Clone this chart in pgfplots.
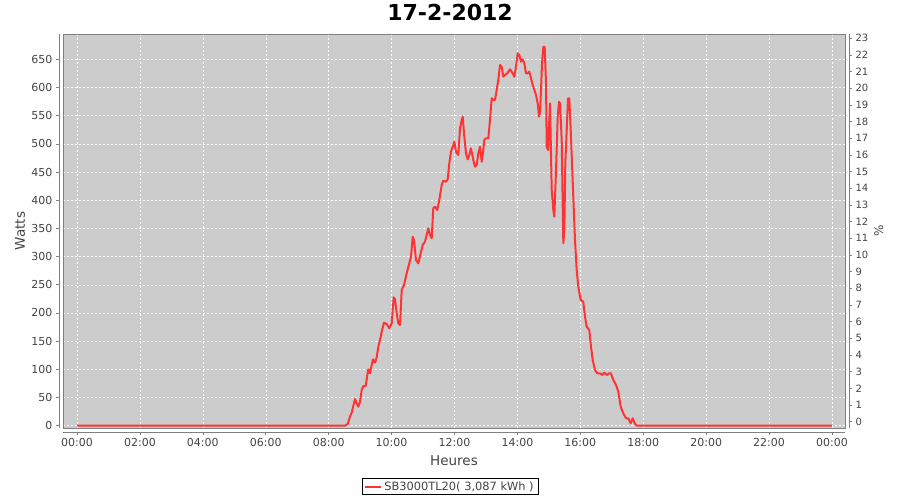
\documentclass[border=0pt]{standalone}
\usepackage{pgfplots}
\pgfplotsset{compat=1.18}
\usepackage{fontspec}
\setmainfont{DejaVu Sans}
\definecolor{bgc}{HTML}{CCCCCC}
\definecolor{axc}{HTML}{808080}
\definecolor{txt}{HTML}{444444}
\definecolor{redl}{HTML}{FF3333}
\begin{document}
\begin{tikzpicture}
\path[use as bounding box] (-63pt,-72pt) rectangle (837pt,428pt);
\begin{axis}[
  at={(0pt,0pt)}, anchor=south west,
  scale only axis, width=782pt, height=394pt,
  xmin=-0.445, xmax=24.413, ymin=-4.08, ymax=694.9,
  axis background/.style={fill=bgc},
  axis line style={axc, line width=0.8pt},
  xtick={0,2,...,24},
  xticklabels={00:00,02:00,04:00,06:00,08:00,10:00,12:00,14:00,16:00,18:00,20:00,22:00,00:00},
  ytick={0,50,...,650},
  tick pos=left, tick align=outside, major tick length=3pt,
  xtick style={axc, line width=0.6pt, yshift=-4pt},
  ytick style={axc, line width=0.6pt, xshift=-4pt},
  xticklabel shift=4pt, yticklabel shift=4pt,
  ticklabel style={font=\fontsize{11}{13}\selectfont, text=txt},
  /pgf/number format/assume math mode=true,
  grid=major,
  major grid style={white, line width=0.5pt, dash pattern=on 2pt off 2pt},
  title={17-2-2012},
  title style={font=\bfseries\fontsize{22}{25}\selectfont, text=black, anchor=base, at={(axis description cs:0.4949,1)}, yshift=7pt},
  xlabel={Heures},
  xlabel style={font=\fontsize{13.5}{15}\selectfont, text=txt, at={(axis description cs:0.5,0)}, anchor=base, yshift=-38pt},
  ylabel={Watts},
  ylabel style={font=\fontsize{13.5}{15}\selectfont, text=txt, at={(axis description cs:0,0.5)}, anchor=base, yshift=38pt},
  legend style={at={(axis description cs:0.4949,-0.1485)}, anchor=center, draw=black, fill=white, font=\fontsize{11.4}{13}\selectfont, text=txt, inner xsep=2pt, inner ysep=1pt},
  legend image code/.code={\draw[#1, line width=2pt] (0pt,0pt) -- (16pt,0pt);},
  legend cell align=left,
  after end axis/.code={
    \draw[axc, line width=0.8pt] ([xshift=-4pt]rel axis cs:0,0) -- ([xshift=-4pt]rel axis cs:0,1);
    \draw[axc, line width=0.8pt] ([yshift=-4pt]rel axis cs:0,0) -- ([yshift=-4pt]rel axis cs:1,0);
  },
]
\addplot[redl, line width=2pt, line join=round, no markers] coordinates {
(0,0) (8.519,0) (8.605,3.0) (8.678,16.0) (8.732,23.1) (8.783,34.9) (8.837,47.4) (8.901,38.5) (8.942,33.7) (8.996,42.6)
(9.050,63.3) (9.101,70.4) (9.177,70.4) (9.228,89.9) (9.260,100.1) (9.314,93.0) (9.368,107.7) (9.409,117.8) (9.473,111.8) (9.527,121.3)
(9.578,140.1) (9.632,152.0) (9.686,166.8) (9.759,182.7) (9.845,180.4) (9.928,172.8) (10.004,181.7) (10.067,227.8) (10.109,224.2) (10.163,199.4)
(10.214,181.7) (10.268,178.6) (10.322,240.7) (10.395,249.6) (10.480,270.4) (10.563,288.1) (10.617,299.8) (10.671,335.3) (10.713,329.4) (10.776,294.0)
(10.849,288.1) (10.926,305.8) (10.989,320.6) (11.062,326.4) (11.167,350.2) (11.221,338.3) (11.275,332.4) (11.326,385.7) (11.380,388.5) (11.453,382.6)
(11.517,400.4) (11.593,427.0) (11.644,434.6) (11.730,432.9) (11.784,437.1) (11.835,465.5) (11.889,486.1) (11.943,494.9) (11.994,503.8) (12.048,486.1)
(12.121,480.2) (12.175,527.6) (12.229,542.3) (12.261,548.2) (12.312,512.7) (12.366,483.2) (12.420,472.6) (12.471,480.2) (12.524,492.1) (12.598,471.4)
(12.652,459.5) (12.706,462.5) (12.757,483.2) (12.811,494.9) (12.865,468.3) (12.916,489.1) (12.947,506.8) (13.001,509.8) (13.075,509.8) (13.128,542.3)
(13.183,580.8) (13.234,577.8) (13.287,577.8) (13.341,595.5) (13.392,613.3) (13.446,639.9) (13.500,636.9) (13.551,619.1) (13.605,622.1) (13.678,625.2)
(13.764,632.3) (13.850,625.2) (13.901,619.1) (13.955,636.9) (14.009,660.6) (14.060,657.6) (14.114,645.7) (14.168,650.0) (14.219,642.9) (14.273,625.2)
(14.327,625.2) (14.378,628.0) (14.432,616.3) (14.486,604.4) (14.537,595.5) (14.591,586.7) (14.645,571.9) (14.686,548.2) (14.718,557.0) (14.750,595.5)
(14.782,642.9) (14.823,672) (14.867,672) (14.909,607.4) (14.931,494.9) (14.972,489.1) (15.036,571.9) (15.090,418.1) (15.141,382.6) (15.173,370.8)
(15.227,453.6) (15.281,548.2) (15.322,574.8) (15.354,571.9) (15.408,506.8) (15.440,388.5) (15.459,323.6) (15.491,347.2) (15.522,465.5) (15.567,524.6)
(15.608,580.8) (15.649,580.8) (15.694,524.6) (15.735,465.5) (15.776,406.2) (15.830,329.4) (15.884,276.2) (15.935,246.6) (16.012,223.0) (16.094,220.0)
(16.148,193.4) (16.202,175.6) (16.285,169.8) (16.339,140.1) (16.393,116.6) (16.466,98.8) (16.539,93.0) (16.625,93.0) (16.698,89.9) (16.762,94.0)
(16.838,89.9) (16.911,93.0) (16.975,93.0) (17.048,81.1) (17.134,72.2) (17.207,60.3) (17.283,33.7) (17.366,22.0) (17.452,13.1) (17.525,13.1)
(17.601,4.3) (17.665,13.1) (17.729,4.3) (17.792,0) (24,0)
};
\addlegendentry{SB3000TL20( 3,087 kWh )}
\end{axis}
\begin{axis}[
  at={(0pt,0pt)}, anchor=south west,
  scale only axis, width=782pt, height=394pt,
  xmin=-0.445, xmax=24.413, ymin=-0.378, ymax=23.26,
  axis y line*=right, axis x line=none,
  axis line style={axc, line width=0.8pt, xshift=4pt},
  ytick={0,1,...,23},
  tick align=outside, major tick length=3pt,
  ytick style={axc, line width=0.6pt, xshift=4pt},
  yticklabel shift=4pt,
  ticklabel style={font=\fontsize{10}{12}\selectfont, text=txt},
  /pgf/number format/assume math mode=true,
  ylabel={\%},
  ylabel style={font=\fontsize{12}{14}\selectfont, text=txt, at={(axis description cs:1,0.5)}, anchor=base, yshift=-38pt},
]
\end{axis}
\end{tikzpicture}
\end{document}
